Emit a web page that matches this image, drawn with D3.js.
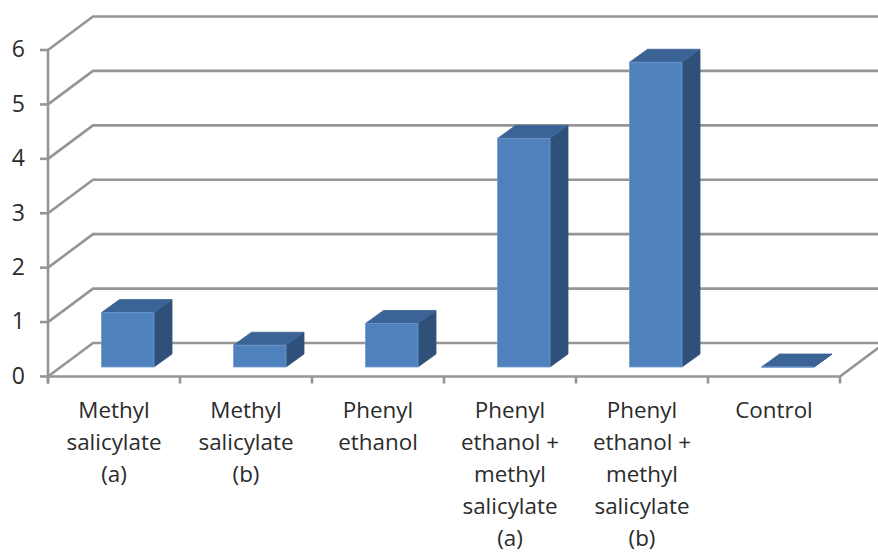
<!DOCTYPE html>
<html>
<head>
<meta charset="utf-8">
<style>
  html, body { margin: 0; padding: 0; background: #fff; }
  svg { display: block; }
  text { font-family: "Open Sans", sans-serif; fill: #2b2b2b; }
</style>
</head>
<body>
<svg id="chart" width="878" height="552"></svg>
<script src="https://cdnjs.cloudflare.com/ajax/libs/d3/7.8.5/d3.min.js"></script>
<script>
// Category labels, one inner array per wrapped line
const categories = [
  ["Methyl", "salicylate", "(a)"],
  ["Methyl", "salicylate", "(b)"],
  ["Phenyl", "ethanol"],
  ["Phenyl", "ethanol +", "methyl", "salicylate", "(a)"],
  ["Phenyl", "ethanol +", "methyl", "salicylate", "(b)"],
  ["Control"]
];
const values = [1, 0.4, 0.8, 4.2, 5.6, 0];
const yTicks = [0, 1, 2, 3, 4, 5, 6];

const svg = d3.select("#chart");

const x = d3.scaleBand().domain(d3.range(categories.length)).range([48, 840]);
const y = d3.scaleLinear().domain([0, 6]).range([376.5, 50]);

// Oblique projection of the chart box and of each column
const wall = { dx: 45, dy: -33.5 };
const bar = { width: 52.5, inset: 53.5, lift: 9.5, dx: 18, dy: -13 };
const gridColor = "#959595";

const gridLayer = svg.append("g")
  .attr("fill", "none").attr("stroke", gridColor).attr("stroke-width", 2.6);

// Side wall and back wall gridlines
yTicks.forEach(t => {
  const yy = y(t);
  gridLayer.append("polyline").attr("points", [
    [x.range()[0], yy],
    [x.range()[0] + wall.dx, yy + wall.dy],
    [900, yy + wall.dy]
  ].join(" "));
});

// Floor front edge and right edge
gridLayer.append("polyline").attr("points", [
  [x.range()[0], y(0)],
  [x.range()[1], y(0)],
  [x.range()[1] + wall.dx, y(0) + wall.dy]
].join(" "));

// Value axis with outward ticks
gridLayer.append("line")
  .attr("x1", x.range()[0]).attr("x2", x.range()[0])
  .attr("y1", y(6)).attr("y2", y(0) + 7);
gridLayer.selectAll("line.ytick").data(yTicks).join("line")
  .attr("class", "ytick")
  .attr("x1", x.range()[0] - 8).attr("x2", x.range()[0])
  .attr("y1", d => y(d)).attr("y2", d => y(d));

// Category axis ticks on the band boundaries
const boundaries = d3.range(categories.length + 1).map(i => x.range()[0] + i * x.step());
gridLayer.selectAll("line.xtick").data(boundaries).join("line")
  .attr("class", "xtick")
  .attr("x1", d => d).attr("x2", d => d)
  .attr("y1", y(0)).attr("y2", y(0) + 7);

svg.append("g").selectAll("text").data(yTicks).join("text")
  .attr("x", 25).attr("y", d => y(d) - 1)
  .attr("dy", "0.36em")
  .attr("text-anchor", "end")
  .attr("font-size", 23)
  .text(d => d);

// Columns: side face, top face, then the front face
const columns = svg.append("g").selectAll("g").data(values).join("g");

function facePoints(i, v, face) {
  const x0 = x(i) + bar.inset, x1 = x0 + bar.width;
  const bottom = y(0) - bar.lift;
  const top = bottom - (y(0) - y(v));
  if (face === "side") {
    return [[x1, top], [x1 + bar.dx, top + bar.dy], [x1 + bar.dx, bottom + bar.dy], [x1, bottom]];
  }
  if (face === "top") {
    return [[x0, top], [x0 + bar.dx, top + bar.dy], [x1 + bar.dx, top + bar.dy], [x1, top]];
  }
  return [[x0, top], [x1, top], [x1, bottom], [x0, bottom]];
}

[["side", "#2f5179"], ["top", "#3b6395"], ["front", "#4f81bd"]].forEach(([face, fill]) => {
  columns.append("polygon")
    .attr("fill", fill)
    .attr("stroke", face === "front" ? "#6f9ad0" : fill)
    .attr("stroke-width", 0.8)
    .attr("points", (d, i) => facePoints(i, d, face).join(" "));
});

// Wrapped category labels
const labels = svg.append("g").selectAll("text").data(categories).join("text")
  .attr("text-anchor", "middle")
  .attr("font-size", 22.4);
labels.selectAll("tspan").data((d, i) => d.map(line => ({ line, i }))).join("tspan")
  .attr("x", d => x(d.i) + x.bandwidth() / 2)
  .attr("y", (d, j) => 418 + j * 31.9)
  .text(d => d.line);
</script>
</body>
</html>
